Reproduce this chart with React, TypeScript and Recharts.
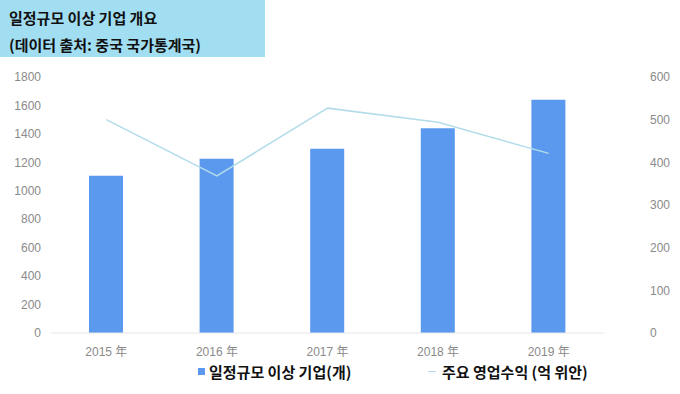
import React from "react";
import { ComposedChart, Bar, Line, XAxis, YAxis } from "recharts";

const years = ["2015 年", "2016 年", "2017 年", "2018 年", "2019 年"];
const enterprises = [1105, 1225, 1295, 1440, 1640];
const revenue = [500, 368, 527, 494, 421];
const leftTicks = [0, 200, 400, 600, 800, 1000, 1200, 1400, 1600, 1800];
const rightTicks = [0, 100, 200, 300, 400, 500, 600];

const data = years.map((year, i) => ({
  year,
  enterprises: enterprises[i],
  revenue: revenue[i],
}));

const BAR_COLOR = "#5b99ef";
const LINE_COLOR = "#b3dcea";
const KR_FONT = "'Noto Sans CJK KR', 'Noto Sans', sans-serif";
const TICK = { fill: "#8a8a8a", fontSize: 12, fontFamily: "'Liberation Sans', 'Noto Sans CJK KR', sans-serif" };

function ChartLegend() {
  return (
    <div
      style={{
        position: "absolute",
        left: 0,
        top: 361,
        width: 680,
        height: 24,
        fontFamily: KR_FONT,
        fontWeight: 700,
        fontSize: 15,
        color: "#111",
      }}
    >
      <div style={{ position: "absolute", left: 198, top: 0, display: "flex", alignItems: "center" }}>
        <span style={{ display: "inline-block", width: 7, height: 7, background: BAR_COLOR, marginRight: 4 }} />
        <span>일정규모 이상 기업(개)</span>
      </div>
      <div style={{ position: "absolute", left: 428, top: 0, display: "flex", alignItems: "center" }}>
        <span style={{ display: "inline-block", width: 8, height: 1.5, background: LINE_COLOR, marginRight: 6 }} />
        <span>주요 영업수익 (억 위안)</span>
      </div>
    </div>
  );
}

export default function App() {
  return (
    <div style={{ position: "absolute", left: 0, top: 0, width: 680, height: 394, background: "#fff" }}>
      <div
        style={{
          position: "absolute",
          left: 0,
          top: 0,
          width: 265,
          height: 57,
          background: "#a2def1",
          fontFamily: KR_FONT,
          fontWeight: 700,
          fontSize: 15,
          color: "#111",
          zIndex: 2,
        }}
      >
        <div style={{ position: "absolute", left: 9, top: 7 }}>일정규모 이상 기업 개요</div>
        <div style={{ position: "absolute", left: 9, top: 34 }}>(데이터 출처: 중국 국가통계국)</div>
      </div>
      <ComposedChart
        width={680}
        height={394}
        data={data}
        margin={{ top: 77, right: 0, bottom: 33, left: 0 }}
      >
        <XAxis
          dataKey="year"
          tick={TICK}
          tickLine={false}
          axisLine={{ stroke: "#e6e6e6" }}
          tickMargin={8}
          height={28}
          interval={0}
        />
        <YAxis
          yAxisId="left"
          domain={[0, 1800]}
          ticks={leftTicks}
          tick={TICK}
          tickLine={false}
          axisLine={false}
          width={51}
          tickSize={8}
          tickMargin={2}
        />
        <YAxis
          yAxisId="right"
          orientation="right"
          domain={[0, 600]}
          ticks={rightTicks}
          tick={{ ...TICK, textAnchor: "start" }}
          tickLine={false}
          axisLine={false}
          width={76}
          tickSize={6}
          tickMargin={40}
        />
        <Bar yAxisId="left" dataKey="enterprises" fill={BAR_COLOR} barSize={34} isAnimationActive={false} />
        <Line
          yAxisId="right"
          dataKey="revenue"
          type="linear"
          stroke={LINE_COLOR}
          strokeWidth={1.5}
          dot={false}
          isAnimationActive={false}
        />
      </ComposedChart>
      <ChartLegend />
    </div>
  );
}
